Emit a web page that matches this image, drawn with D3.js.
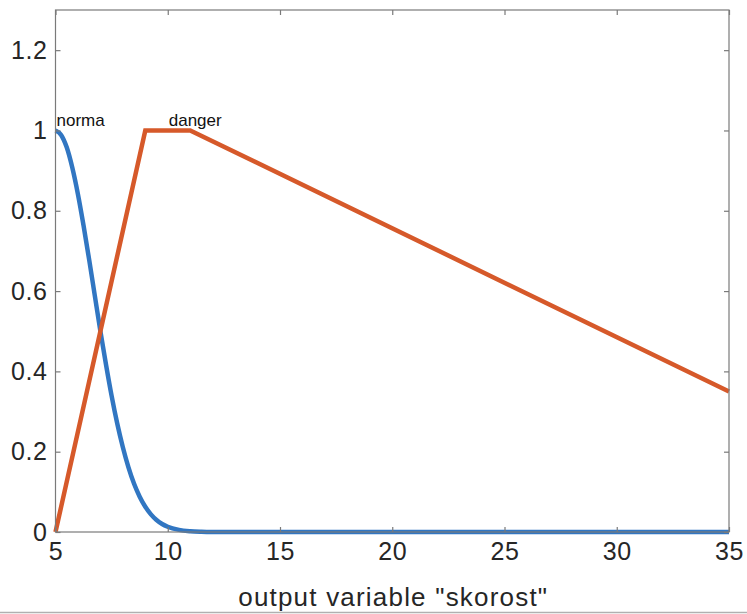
<!DOCTYPE html>
<html>
<head>
<meta charset="utf-8">
<script src="https://cdn.jsdelivr.net/npm/d3@7/dist/d3.min.js"></script>
<style>
  html, body { margin: 0; padding: 0; background: #fff; }
  svg { display: block; font-family: "Liberation Sans", Arial, Helvetica, sans-serif; }
</style>
</head>
<body>
<svg id="chart" width="747" height="614"></svg>
<script>
// ---- data ----
const xDomain = [5, 35];
const yDomain = [0, 1.3];
const xTicks = [5, 10, 15, 20, 25, 30, 35];
const yTicks = [0, 0.2, 0.4, 0.6, 0.8, 1, 1.2];
const yTickLabels = ["0", "0.2", "0.4", "0.6", "0.8", "1", "1.2"];

const normaX = [5, 5.25, 5.5, 5.75, 6, 6.25, 6.5, 6.75, 7, 7.25, 7.5, 7.75, 8, 8.25, 8.5, 8.75, 9, 9.25, 9.5, 9.75, 10, 10.5, 11, 11.5, 12, 13, 35];
const normaY = [1, 0.989, 0.958, 0.907, 0.841, 0.763, 0.678, 0.589, 0.5, 0.417, 0.339, 0.27, 0.211, 0.161, 0.12, 0.088, 0.063, 0.044, 0.03, 0.02, 0.013, 0.0053, 0.002, 0.0007, 0.0002, 0, 0];

const dangerX = [5, 9, 11, 35];
const dangerY = [0, 1, 1, 0.35];

const labelNames = ["norma", "danger"];
const labelX = [5, 10];
const labelY = [1, 1];

const xLabel = 'output variable "skorost"';

// ---- layout ----
const svg = d3.select("#chart");
const L = 55.5, R = 729, T = 10, B = 532;
const x = d3.scaleLinear().domain(xDomain).range([L, R]);
const y = d3.scaleLinear().domain(yDomain).range([B, T]);

const axisColor = "#7a7a7a";
const textColor = "#262626";
const tickLen = 5;

// lines
const normaPts = normaX.map((v, i) => [v, normaY[i]]);
const dangerPts = dangerX.map((v, i) => [v, dangerY[i]]);

svg.append("path")
  .attr("d", d3.line().x(d => x(d[0])).y(d => y(d[1])).curve(d3.curveMonotoneX)(normaPts))
  .attr("fill", "none").attr("stroke", "#3176c2").attr("stroke-width", 4.5)
  .attr("stroke-linejoin", "round");

svg.append("path")
  .attr("d", d3.line().x(d => x(d[0])).y(d => y(d[1]))(dangerPts))
  .attr("fill", "none").attr("stroke", "#d6592a").attr("stroke-width", 4.5)
  .attr("stroke-linejoin", "miter");

// axes (box with inward ticks)
const axes = svg.append("g");
axes.append("rect")
  .attr("x", L).attr("y", T).attr("width", R - L).attr("height", B - T)
  .attr("fill", "none").attr("stroke", axisColor).attr("stroke-width", 1.2);

const xAxisB = d3.axisBottom(x).tickValues(xTicks).tickSize(-tickLen).tickFormat(d3.format("d")).tickPadding(10);
const xAxisT = d3.axisTop(x).tickValues(xTicks).tickSize(-tickLen).tickFormat("");
const yAxisL = d3.axisLeft(y).tickValues(yTicks).tickSize(-tickLen).tickFormat((d, i) => yTickLabels[i]).tickPadding(8);
const yAxisR = d3.axisRight(y).tickValues(yTicks).tickSize(-tickLen).tickFormat("");

function style(g) {
  g.select(".domain").remove();
  g.selectAll(".tick line").attr("stroke", axisColor).attr("stroke-width", 1.2);
  g.selectAll(".tick text").attr("fill", textColor).style("font-size", "25px")
    .style("letter-spacing", "0.6px")
    .style("font-family", '"Liberation Sans", Arial, Helvetica, sans-serif');
}
axes.append("g").attr("transform", `translate(0,${B})`).call(xAxisB).call(style);
axes.append("g").attr("transform", `translate(0,${T})`).call(xAxisT).call(style);
axes.append("g").attr("transform", `translate(${L},0)`).call(yAxisL).call(style);
axes.append("g").attr("transform", `translate(${R},0)`).call(yAxisR).call(style);

// MF labels
svg.selectAll("text.mf").data(labelNames).enter().append("text")
  .attr("class", "mf")
  .attr("x", (d, i) => x(labelX[i]) + 1)
  .attr("y", (d, i) => y(labelY[i]) - 4)
  .attr("fill", "#111").style("font-size", "17px")
  .text(d => d);

// x axis label
svg.append("text")
  .attr("x", (L + R) / 2 + 1).attr("y", 606)
  .attr("text-anchor", "middle").attr("fill", textColor)
  .style("font-size", "26px").style("letter-spacing", "1.2px")
  .text(xLabel);

// bottom border of image
svg.append("line").attr("x1", 0).attr("x2", 747).attr("y1", 612.5).attr("y2", 612.5)
  .attr("stroke", "#b0b0b0").attr("stroke-width", 1.5);
</script>
</body>
</html>
